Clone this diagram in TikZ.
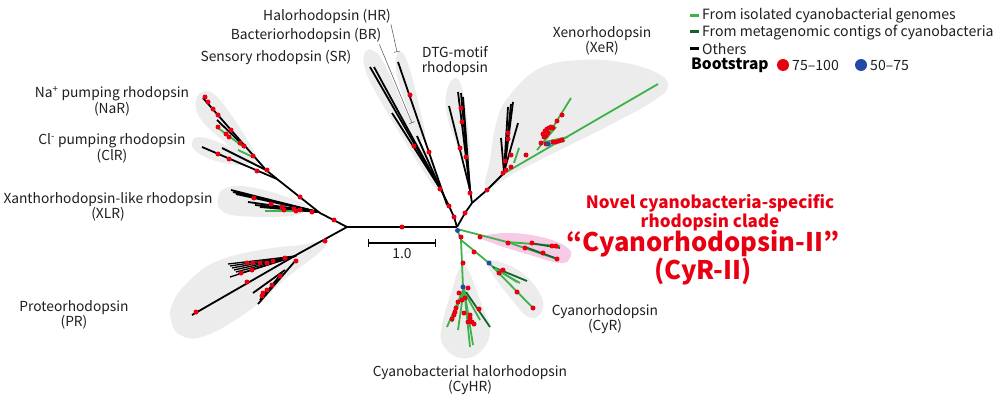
\documentclass[tikz,border=0pt]{standalone}
\usepackage{fontspec}
\setmainfont{Noto Sans CJK JP}
\usetikzlibrary{arrows.meta}
\definecolor{lg}{RGB}{62,178,72}
\definecolor{dg}{RGB}{18,100,45}
\definecolor{dred}{RGB}{232,0,18}
\definecolor{dblue}{RGB}{35,75,165}
\definecolor{blobc}{RGB}{236,236,236}
\definecolor{pinkb}{RGB}{247,202,230}
\definecolor{txt}{RGB}{30,30,30}
\begin{document}
\begin{tikzpicture}[x=1pt,y=-1pt,
  bk/.style={line width=1.8pt,black},
  gr/.style={line width=1.8pt,lg},
  dgr/.style={line width=1.8pt,dg},
  blob/.style={fill=blobc},
  lead/.style={line width=0.6pt,black!60,-{Bar[width=6pt]}},
  lab/.style={font=\fontsize{13.8}{14.5}\selectfont,align=center,text=txt,inner sep=0pt},
  leg/.style={font=\fontsize{14.1}{15}\selectfont,text=txt,inner sep=0pt,anchor=west},
  redt/.style={font=\fontsize{17}{17}\selectfont\bfseries,align=center,text=dred,inner sep=0pt},
  bigred/.style={font=\fontsize{25.6}{24}\selectfont\bfseries,align=center,text=dred,inner sep=0pt}
]
\useasboundingbox (0,0) rectangle (1000,401);
% ---------- blobs ----------
\fill[blobc] plot[smooth cycle,tension=0.7] coordinates {(196,100) (205,91) (218,98) (240,128) (257,158) (250,161) (220,138) (200,118)};
\fill[blobc] plot[smooth cycle,tension=0.7] coordinates {(192,143) (200,137) (225,145) (248,158) (245,165) (220,162) (198,153)};
\fill[blobc] plot[smooth cycle,tension=0.7] coordinates {(218,198) (226,188) (250,187) (290,198) (308,208) (290,216) (240,216) (221,210)};
\fill[blobc] plot[smooth cycle,tension=0.7] coordinates {(172,305) (185,285) (215,262) (260,250) (300,245) (325,241) (320,252) (290,275) (250,310) (205,336) (180,335) (171,320)};
\fill[blobc] plot[smooth cycle,tension=0.7] coordinates {(364,55) (372,50) (385,65) (410,120) (440,180) (436,189) (410,150) (380,100) (366,72)};
\fill[blobc] plot[smooth cycle,tension=0.7] coordinates {(396,58) (402,52) (410,70) (420,110) (425,135) (418,139) (408,110) (398,80)};
\fill[blobc] plot[smooth cycle,tension=0.7] coordinates {(446,95) (452,80) (460,82) (466,110) (470,155) (464,161) (455,140) (447,115)};
\fill[blobc] plot[smooth cycle,tension=0.7] coordinates {(487,187) (490,160) (497,120) (510,95) (540,68) (580,60) (620,62) (655,72) (668,85) (655,100) (610,125) (560,150) (520,170)};
\fill[pinkb] plot[smooth cycle,tension=0.7] coordinates {(482,237) (510,233) (545,238) (568,248) (570,258) (560,263) (530,255) (495,244)};
\fill[blobc] plot[smooth cycle,tension=0.7] coordinates {(487,262) (500,262) (525,275) (542,298) (540,314) (528,317) (512,300) (493,275)};
\fill[blobc] plot[smooth cycle,tension=0.7] coordinates {(460,268) (468,270) (480,300) (490,330) (480,352) (460,358) (443,345) (442,325) (452,290)};
% ---------- central + left ----------
\draw[bk] (347,227)--(457,227);
\draw[bk] (347,227)--(320,213)--(277,179);
\foreach \e in {(231,190),(233,192),(236,194),(255,197),(248,202),(255,205),(260,207)} \draw[bk] (318,212)--\e;
\draw[gr] (265,211)--(298,211);
\draw[bk] (277,179)--(202,147);
\draw[bk] (277,179)--(266,170);
\draw[bk] (266,170)--(222,148);
\draw[bk] (266,170)--(203,98);
\draw[bk] (245,147)--(217,120);
\draw[gr] (218,128)--(245,148);
\draw[gr] (238,150)--(253,157);
% PR
\draw[bk] (347,227)--(298,254)--(192,315);
\foreach \e in {(228,264),(230,266),(232,268),(234,270),(236,272),(230,277),(238,274)} \draw[line width=1.3pt] (296,256)--\e;
\draw[bk] (296,260)--(258,304);
\draw[bk] (285,270)--(253,293);
\draw[bk] (282,273)--(260,300);
% ---------- right upper ----------
\draw[bk] (457,227)--(454,217)--(449,206)--(441,190);
\draw[bk] (441,190)--(370,67);
\draw[bk] (441,190)--(374,67);
\draw[bk] (441,190)--(392,113);
\draw[bk] (441,190)--(417,136);
\draw[bk] (447,205)--(398,62);
\draw[bk] (457,227)--(465,213)--(472,203);
\draw[bk] (472,203)--(470,190);
\foreach \e in {(458,92),(461,93),(463,97),(449,106)} \draw[bk] (470,190)--\e;
\draw[bk] (472,203)--(487,190)--(503,174);
\foreach \e in {(501,138),(508,107),(511,104),(513,102),(518,123)} \draw[bk] (504,172)--\e;
\draw[gr] (503,174)--(658,84);
\draw[gr] (514,163)--(519,148);
\draw[gr] (537,150)--(545,140)--(571,98);
\draw[gr] (540,143)--(568,137);
\draw[gr] (545,145)--(565,141);
\draw[gr] (545,140)--(556,127);
% ---------- right lower ----------
\draw[gr] (457,229)--(507,242)--(560,246);
\draw[gr] (507,242)--(557,259);
\draw[dgr] (525,247)--(555,258);
\draw[dgr] (530,243)--(560,248);
\draw[gr] (457,229)--(461,240)--(489,263)--(533,308);
\draw[dgr] (493,267)--(527,281);
\draw[gr] (495,268)--(517,282);
\draw[gr] (497,270)--(520,283);
\draw[gr] (461,240)--(463,287);
\foreach \e in {(447,327),(452,322),(458,330),(470,347),(473,345)} \draw[gr] (464,288)--\e;
\draw[dgr] (466,292)--(490,327);
\draw[gr] (466,295)--(480,320);
% ---------- dots ----------
\foreach \p in {(402,227),(334,220),(300,197),(312,212),(254,198),(271,204),(282,207),(284,210),(294,209),(296,211),(300,210),
 (267,170),(257,171),(229,159),(218,154),(253,156),(244,146),(240,143),(231,130),(218,115),(213,109),(208,102),(205,97),(218,127),(226,134),(229,137),
 (325,241),(247,282),(196,312),(247,263),(253,263),(260,263),(267,263),(273,261),(285,258),(296,261),(241,273),(252,270),(280,276),(272,285),(267,290),(263,293),(262,296),
 (454,217),(449,206),(440,189),(414,146),(410,95),(429,152),(465,213),(470,193),(461,108),(462,122),(460,148),(466,157),
 (487,190),(508,133),(508,139),(505,161),(511,155),(511,167),(506,170),(503,173),(526,155),(562,115),(557,121),
 (543,134),(545,131),(547,129),(549,128),(551,127),(553,128),(546,136),(544,137),(548,133),(541,143),(546,144),(553,142),(556,142),(559,141),(562,140),
 (480,237),(508,243),(532,243),(525,248),(543,253),(552,246),(556,246),(557,259),
 (461,237),(474,252),(499,273),(503,270),(517,292),(533,308),(463,263),
 (468,288),(459,293),(462,300),(465,298),(458,302),(456,308),(455,312),(454,315),(452,319),(464,313),(470,315),(470,318),(468,322),(479,309),(472,322),(474,324)}
 \fill[dred] \p circle (2.5);
\foreach \p in {(457.5,230.5),(548,144),(489,263),(463,287)} \fill[dblue] \p circle (2.5);
% ---------- scale bar ----------
\coordinate (sb1) at (368,243);
\coordinate (sb2) at (436,243);
\draw[line width=1.3pt,|-|] (sb1)--(sb2);
\node[lab] (scale) at (402,254) {1.0};
% ---------- labels ----------
\node[lab] (hr) at (327,16) {Halorhodopsin (HR)};
\node[lab] (br) at (306,35) {Bacteriorhodopsin (BR)};
\node[lab] (sr) at (276,57) {Sensory rhodopsin (SR)};
\coordinate (hrt) at (397,52);
\coordinate (brt) at (412,123);
\draw[lead] (hr.south east)++(0,1) -- (hrt);
\draw[lead] (br.south east)++(-2,2) -- (brt);
\node[lab] (dtg) at (455,61) {DTG-motif\\rhodopsin};
\node[lab] (xer) at (602,41) {Xenorhodopsin\\(XeR)};
\node[lab] (nar) at (112,101) {Na\textsuperscript{+} pumping rhodopsin\\(NaR)};
\node[lab] (clr) at (112,148) {Cl\textsuperscript{-} pumping rhodopsin\\(ClR)};
\node[lab] (xlr) at (108,207) {Xanthorhodopsin-like rhodopsin\\(XLR)};
\node[lab] (pr) at (74,315) {Proteorhodopsin\\(PR)};
\node[lab] (cyhr) at (470,380) {Cyanobacterial halorhodopsin\\(CyHR)};
\node[lab] (cyr) at (605,319) {Cyanorhodopsin\\(CyR)};
\node[redt] (nov) at (710,213) {Novel cyanobacteria-specific\\rhodopsin clade};
\node[bigred] (cyr2) at (703,258) {“Cyanorhodopsin-II”\\(CyR-II)};
% ---------- legend ----------
\draw[lg,line width=3pt] (690,16)--(699,16);
\draw[dg,line width=3pt] (690,32)--(699,32);
\draw[black,line width=3pt] (690,49)--(699,49);
\node[leg] (l1) at (702,16) {From isolated cyanobacterial genomes};
\node[leg] (l2) at (702,32.5) {From metagenomic contigs of cyanobacteria};
\node[leg] (l3) at (702,49) {Others};
\node[leg,font=\fontsize{15.5}{15}\selectfont\bfseries,text=black] (bs) at (691,65) {Bootstrap};
\fill[dred] (783,65) circle (6);
\node[leg] (b1) at (792,65) {75–100};
\fill[dblue] (861,65) circle (6);
\node[leg] (b2) at (870,65) {50–75};
\end{tikzpicture}
\end{document}
